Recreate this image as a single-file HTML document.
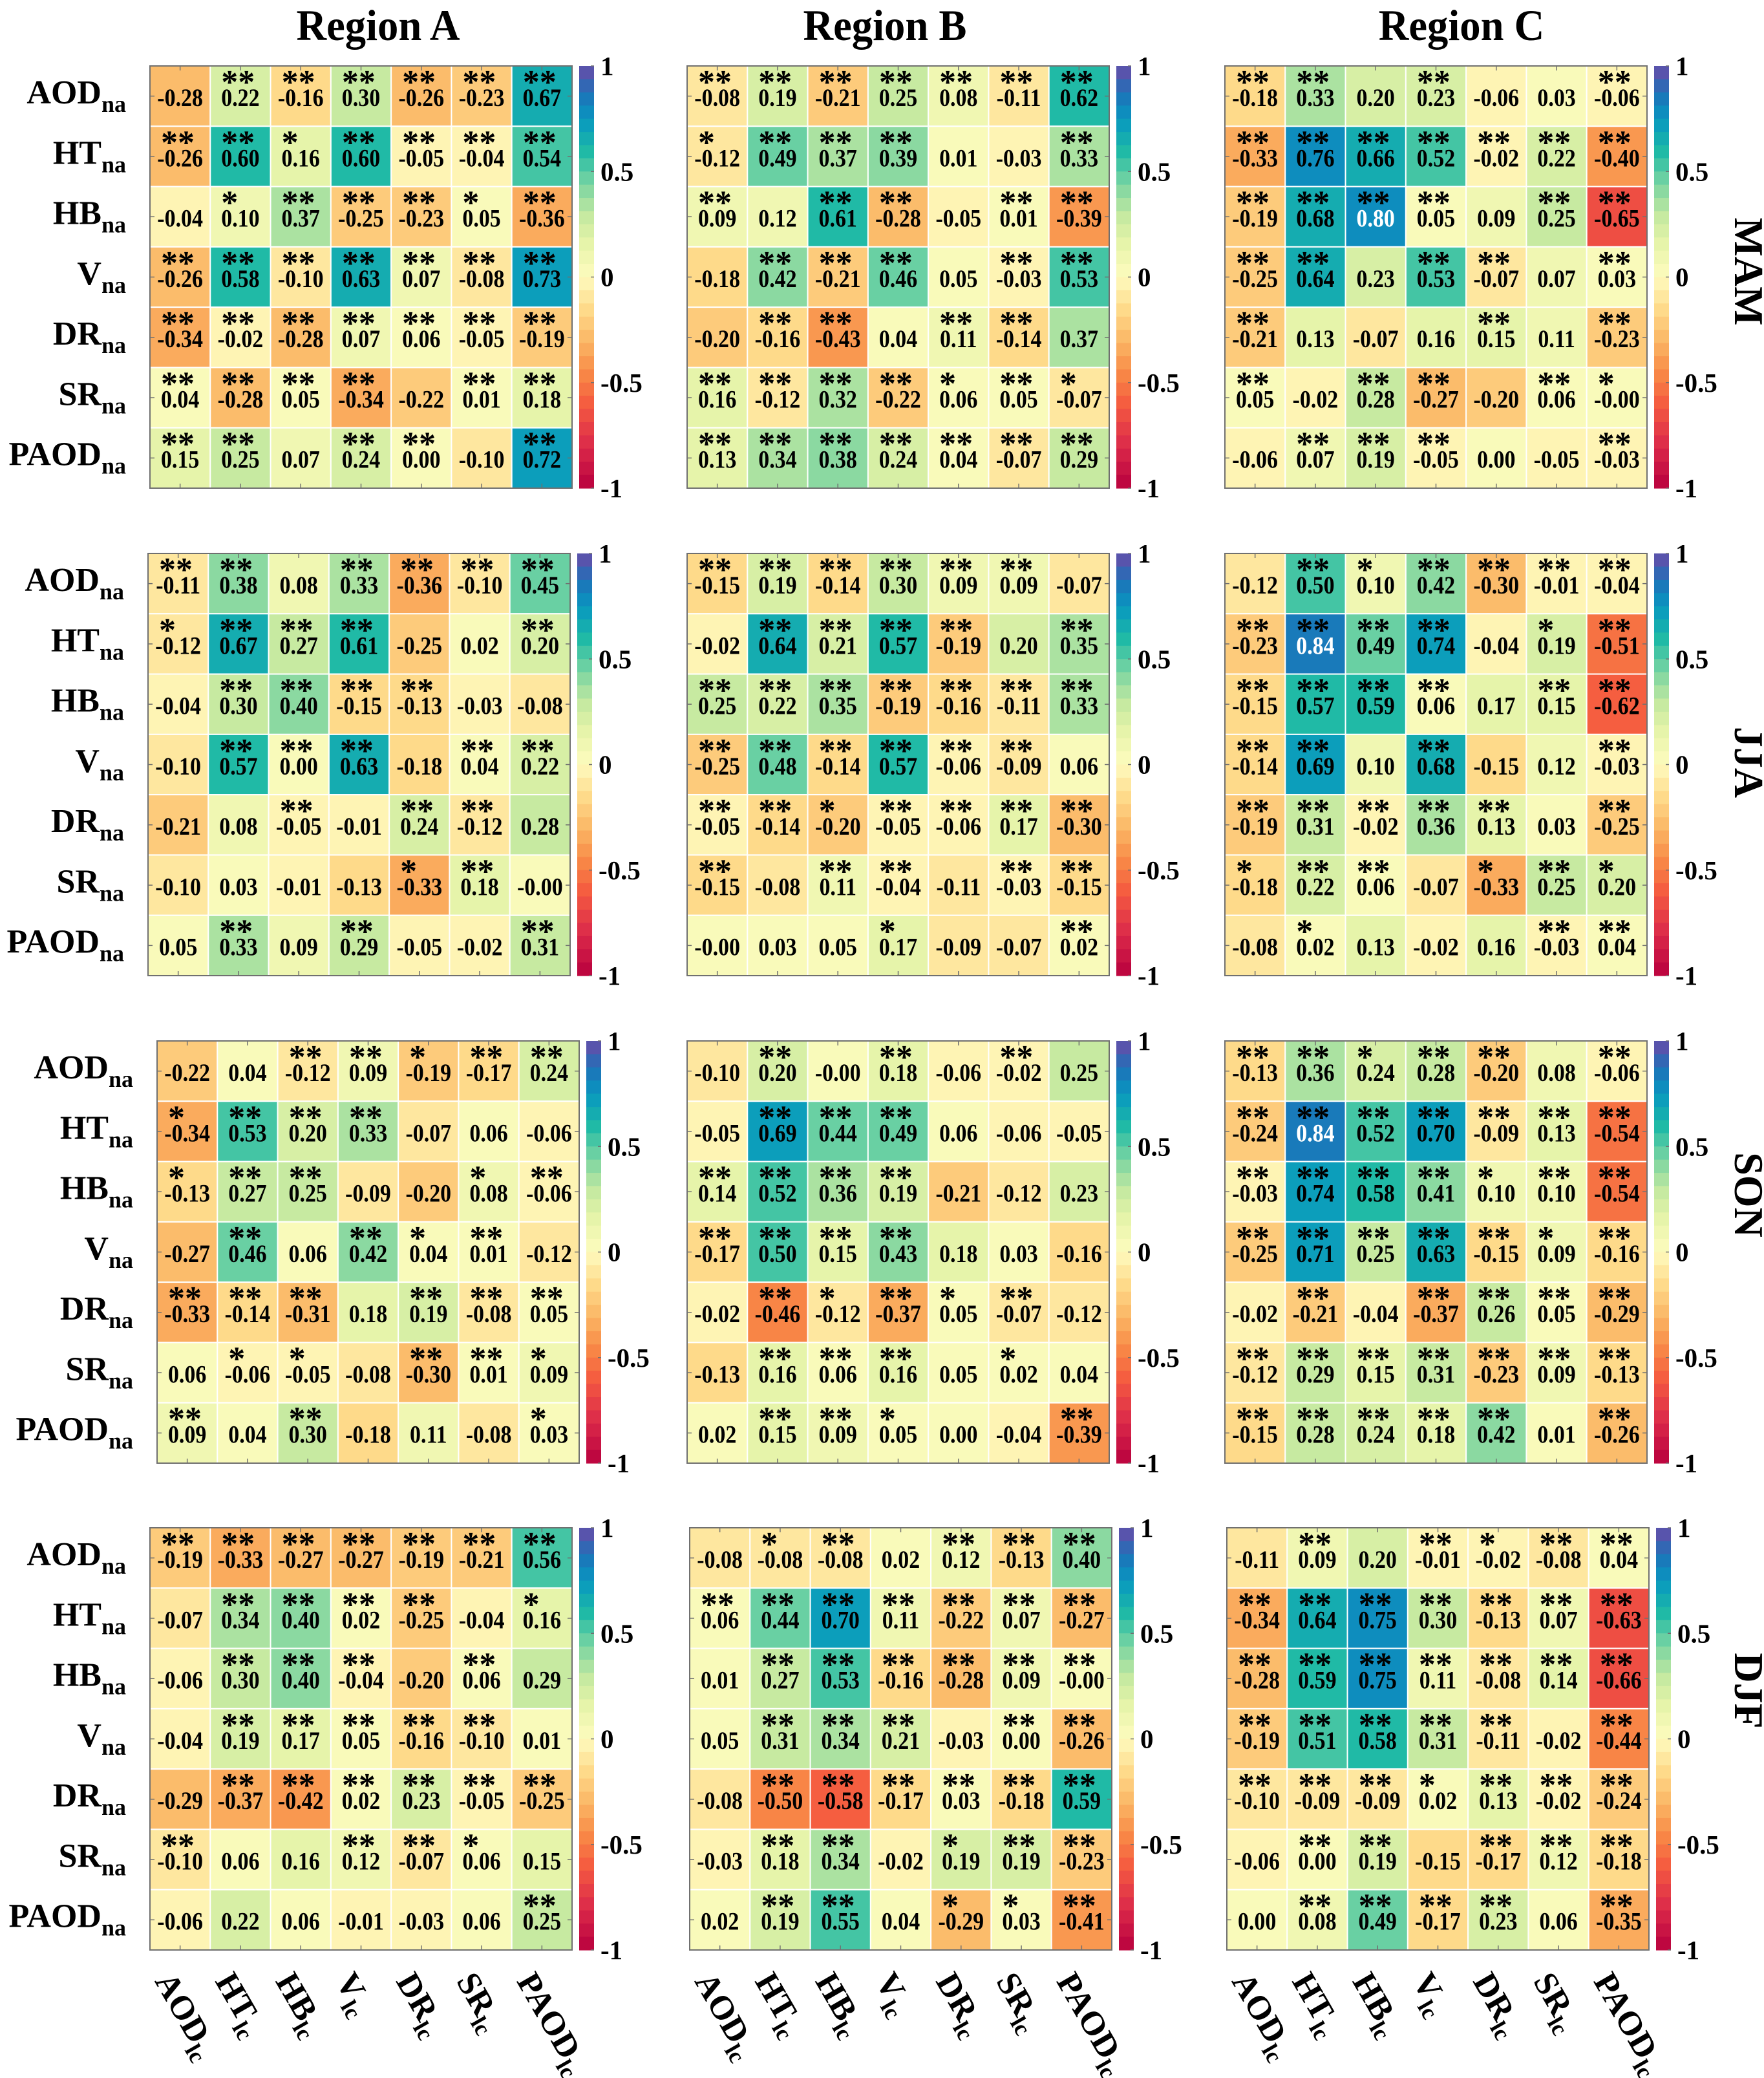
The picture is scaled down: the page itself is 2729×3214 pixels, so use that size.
<!DOCTYPE html>
<html><head><meta charset="utf-8"><title>Correlation heatmaps</title>
<style>
html,body{margin:0;padding:0;background:#fff;}
svg{display:block;font-family:"Liberation Serif",serif;}
</style></head>
<body>
<svg id="fig" xmlns="http://www.w3.org/2000/svg" width="2729" height="3214" viewBox="0 0 2729 3214"></svg>
<script>
const rowNames = ["AOD","HT","HB","V","DR","SR","PAOD"];
const colNames = ["AOD","HT","HB","V","DR","SR","PAOD"];
const seasons = ["MAM","JJA","SON","DJF"];
const regions = ["A","B","C"];
const cbTicks = [1,0.5,0,-0.5,-1];
const cbTickLabels = ["1","0.5","0","-0.5","-1"];

const valsMAM_A = [[-0.28,0.22,-0.16,0.30,-0.26,-0.23,0.67],[-0.26,0.60,0.16,0.60,-0.05,-0.04,0.54],[-0.04,0.10,0.37,-0.25,-0.23,0.05,-0.36],[-0.26,0.58,-0.10,0.63,0.07,-0.08,0.73],[-0.34,-0.02,-0.28,0.07,0.06,-0.05,-0.19],[0.04,-0.28,0.05,-0.34,-0.22,0.01,0.18],[0.15,0.25,0.07,0.24,0.00,-0.10,0.72]];
const starsMAM_A = ["0222222","2212222","0122212","2222222","2222222","2222022","2202202"];
const valsMAM_B = [[-0.08,0.19,-0.21,0.25,0.08,-0.11,0.62],[-0.12,0.49,0.37,0.39,0.01,-0.03,0.33],[0.09,0.12,0.61,-0.28,-0.05,0.01,-0.39],[-0.18,0.42,-0.21,0.46,0.05,-0.03,0.53],[-0.20,-0.16,-0.43,0.04,0.11,-0.14,0.37],[0.16,-0.12,0.32,-0.22,0.06,0.05,-0.07],[0.13,0.34,0.38,0.24,0.04,-0.07,0.29]];
const starsMAM_B = ["2222222","1222002","2022022","0222022","0220220","2222121","2222222"];
const valsMAM_C = [[-0.18,0.33,0.20,0.23,-0.06,0.03,-0.06],[-0.33,0.76,0.66,0.52,-0.02,0.22,-0.40],[-0.19,0.68,0.80,0.05,0.09,0.25,-0.65],[-0.25,0.64,0.23,0.53,-0.07,0.07,0.03],[-0.21,0.13,-0.07,0.16,0.15,0.11,-0.23],[0.05,-0.02,0.28,-0.27,-0.20,0.06,-0.00],[-0.06,0.07,0.19,-0.05,0.00,-0.05,-0.03]];
const starsMAM_C = ["2202002","2222222","2222022","2202202","2000202","2022021","0222002"];
const valsJJA_A = [[-0.11,0.38,0.08,0.33,-0.36,-0.10,0.45],[-0.12,0.67,0.27,0.61,-0.25,0.02,0.20],[-0.04,0.30,0.40,-0.15,-0.13,-0.03,-0.08],[-0.10,0.57,0.00,0.63,-0.18,0.04,0.22],[-0.21,0.08,-0.05,-0.01,0.24,-0.12,0.28],[-0.10,0.03,-0.01,-0.13,-0.33,0.18,-0.00],[0.05,0.33,0.09,0.29,-0.05,-0.02,0.31]];
const starsJJA_A = ["2202222","1222002","0222200","0222022","0020220","0000120","0202002"];
const valsJJA_B = [[-0.15,0.19,-0.14,0.30,0.09,0.09,-0.07],[-0.02,0.64,0.21,0.57,-0.19,0.20,0.35],[0.25,0.22,0.35,-0.19,-0.16,-0.11,0.33],[-0.25,0.48,-0.14,0.57,-0.06,-0.09,0.06],[-0.05,-0.14,-0.20,-0.05,-0.06,0.17,-0.30],[-0.15,-0.08,0.11,-0.04,-0.11,-0.03,-0.15],[-0.00,0.03,0.05,0.17,-0.09,-0.07,0.02]];
const starsJJA_B = ["2222220","0222202","2222222","2222220","2212222","2022022","0001002"];
const valsJJA_C = [[-0.12,0.50,0.10,0.42,-0.30,-0.01,-0.04],[-0.23,0.84,0.49,0.74,-0.04,0.19,-0.51],[-0.15,0.57,0.59,0.06,0.17,0.15,-0.62],[-0.14,0.69,0.10,0.68,-0.15,0.12,-0.03],[-0.19,0.31,-0.02,0.36,0.13,0.03,-0.25],[-0.18,0.22,0.06,-0.07,-0.33,0.25,0.20],[-0.08,0.02,0.13,-0.02,0.16,-0.03,0.04]];
const starsJJA_C = ["0212222","2222012","2222022","2202002","2222202","1220121","0100022"];
const valsSON_A = [[-0.22,0.04,-0.12,0.09,-0.19,-0.17,0.24],[-0.34,0.53,0.20,0.33,-0.07,0.06,-0.06],[-0.13,0.27,0.25,-0.09,-0.20,0.08,-0.06],[-0.27,0.46,0.06,0.42,0.04,0.01,-0.12],[-0.33,-0.14,-0.31,0.18,0.19,-0.08,0.05],[0.06,-0.06,-0.05,-0.08,-0.30,0.01,0.09],[0.09,0.04,0.30,-0.18,0.11,-0.08,0.03]];
const starsSON_A = ["0022122","1222000","1220012","0202120","2220222","0110221","2020001"];
const valsSON_B = [[-0.10,0.20,-0.00,0.18,-0.06,-0.02,0.25],[-0.05,0.69,0.44,0.49,0.06,-0.06,-0.05],[0.14,0.52,0.36,0.19,-0.21,-0.12,0.23],[-0.17,0.50,0.15,0.43,0.18,0.03,-0.16],[-0.02,-0.46,-0.12,-0.37,0.05,-0.07,-0.12],[-0.13,0.16,0.06,0.16,0.05,0.02,0.04],[0.02,0.15,0.09,0.05,0.00,-0.04,-0.39]];
const starsSON_B = ["0202020","0222000","2222000","2222000","0212120","0222010","0221002"];
const valsSON_C = [[-0.13,0.36,0.24,0.28,-0.20,0.08,-0.06],[-0.24,0.84,0.52,0.70,-0.09,0.13,-0.54],[-0.03,0.74,0.58,0.41,0.10,0.10,-0.54],[-0.25,0.71,0.25,0.63,-0.15,0.09,-0.16],[-0.02,-0.21,-0.04,-0.37,0.26,0.05,-0.29],[-0.12,0.29,0.15,0.31,-0.23,0.09,-0.13],[-0.15,0.28,0.24,0.18,0.42,0.01,-0.26]];
const starsSON_C = ["2212202","2222222","2222122","2222212","0202222","2222222","2222202"];
const valsDJF_A = [[-0.19,-0.33,-0.27,-0.27,-0.19,-0.21,0.56],[-0.07,0.34,0.40,0.02,-0.25,-0.04,0.16],[-0.06,0.30,0.40,-0.04,-0.20,0.06,0.29],[-0.04,0.19,0.17,0.05,-0.16,-0.10,0.01],[-0.29,-0.37,-0.42,0.02,0.23,-0.05,-0.25],[-0.10,0.06,0.16,0.12,-0.07,0.06,0.15],[-0.06,0.22,0.06,-0.01,-0.03,0.06,0.25]];
const starsDJF_A = ["2222222","0222201","0222020","0222220","0222222","2002210","0000002"];
const valsDJF_B = [[-0.08,-0.08,-0.08,0.02,0.12,-0.13,0.40],[0.06,0.44,0.70,0.11,-0.22,0.07,-0.27],[0.01,0.27,0.53,-0.16,-0.28,0.09,-0.00],[0.05,0.31,0.34,0.21,-0.03,0.00,-0.26],[-0.08,-0.50,-0.58,-0.17,0.03,-0.18,0.59],[-0.03,0.18,0.34,-0.02,0.19,0.19,-0.23],[0.02,0.19,0.55,0.04,-0.29,0.03,-0.41]];
const starsDJF_B = ["0120222","2222222","0222222","0222022","0222222","0220122","0220112"];
const valsDJF_C = [[-0.11,0.09,0.20,-0.01,-0.02,-0.08,0.04],[-0.34,0.64,0.75,0.30,-0.13,0.07,-0.63],[-0.28,0.59,0.75,0.11,-0.08,0.14,-0.66],[-0.19,0.51,0.58,0.31,-0.11,-0.02,-0.44],[-0.10,-0.09,-0.09,0.02,0.13,-0.02,-0.24],[-0.06,0.00,0.19,-0.15,-0.17,0.12,-0.18],[0.00,0.08,0.49,-0.17,0.23,0.06,-0.35]];
const starsDJF_C = ["0202122","2222222","2222222","2222202","2221222","0220222","0222202"];

const panelVals = {MAM:[valsMAM_A,valsMAM_B,valsMAM_C],JJA:[valsJJA_A,valsJJA_B,valsJJA_C],SON:[valsSON_A,valsSON_B,valsSON_C],DJF:[valsDJF_A,valsDJF_B,valsDJF_C]};
const panelStars = {MAM:[starsMAM_A,starsMAM_B,starsMAM_C],JJA:[starsJJA_A,starsJJA_B,starsJJA_C],SON:[starsSON_A,starsSON_B,starsSON_C],DJF:[starsDJF_A,starsDJF_B,starsDJF_C]};

const PW = 653, PH = 653;
const rowTop = [102, 856, 1610, 2363];
const colLeft = [[232,1063,1895],[229,1063,1895],[243,1063,1895],[232,1067,1898]];
const titleX = [585, 1369, 2261];
const seasonLabelY = [420, 1179, 1848, 2615];

const NS = "http://www.w3.org/2000/svg";
const svg = document.getElementById('fig');
function mk(tag, attrs, parent){ const e=document.createElementNS(NS,tag); for(const k in attrs) e.setAttribute(k,attrs[k]); (parent||svg).appendChild(e); return e; }

const stops = [[-1,"#b8003e"],[-0.8,"#dc2a4a"],[-0.6,"#f55c40"],[-0.45,"#f88b47"],[-0.3,"#fbb866"],[-0.15,"#fedb8c"],[0,"#fefbbe"],[0.15,"#e8f4aa"],[0.3,"#c2e8a0"],[0.45,"#74d3a2"],[0.6,"#1cb9a6"],[0.75,"#0897c0"],[0.87,"#1e72b8"],[1,"#6a4aa8"]];
function hex(h){return [parseInt(h.substr(1,2),16),parseInt(h.substr(3,2),16),parseInt(h.substr(5,2),16)];}
function cmap(v){
  const nb=32; let b=Math.floor((v+1)/2*nb); if(b>=nb)b=nb-1; if(b<0)b=0;
  const q=-1+(b+0.5)*2/nb;
  for(let i=0;i<stops.length-1;i++){ if(q<=stops[i+1][0]){ const t=(q-stops[i][0])/(stops[i+1][0]-stops[i][0]); const a=hex(stops[i][1]), c=hex(stops[i+1][1]); return "rgb("+a.map((x,j)=>Math.round(x+(c[j]-x)*t)).join(",")+")"; } }
  return stops[stops.length-1][1];
}
function fmt(v){ const s=Math.abs(v).toFixed(2); return (v<0||Object.is(v,-0))?"-"+s:s; }

regions.forEach((r,ci)=>{
  const t=mk('text',{x:0,y:0,'text-anchor':'middle','font-size':68,'font-weight':'bold',transform:'translate('+titleX[ci]+',62) scale(0.95,1)'});
  
  
  t.setAttribute('xml:space','preserve');
  t.textContent='Region  '+r;
});

seasons.forEach((s,si)=>{
  const y0=rowTop[si];
  const sl=mk('text',{x:0,y:0,'text-anchor':'middle','font-size':64,'font-weight':'bold',transform:'translate(2684,'+seasonLabelY[si]+') rotate(90)'});
  
  
  sl.textContent=s;
  regions.forEach((r,ri)=>{
    const x0=colLeft[si][ri];
    const cw=PW/7, ch=PH/7;
    const g=mk('g',{});
    
    
    const vals=panelVals[s][ri], st=panelStars[s][ri];
    for(let i=0;i<7;i++){ for(let j=0;j<7;j++){
      const v=vals[i][j];
      const cell=mk('rect',{x:x0+j*cw,y:y0+i*ch,width:cw,height:ch,fill:cmap(v),stroke:'#ffffff','stroke-width':2},g);
      
      
      const tv=mk('text',{x:0,y:0,'text-anchor':'middle','font-size':39,'font-weight':'bold',fill:(v>=0.78?'#ffffff':'#000000'),transform:'translate('+(x0+j*cw+cw/2)+','+(y0+i*ch+62)+') scale(0.87,1)'},g);
      
      
      tv.textContent=fmt(v);
      const n=+st[i][j];
      if(n>0){
        const ts=mk('text',{x:x0+j*cw+17,y:y0+i*ch+42,'font-size':52,'font-weight':'bold'},g);
        
        
        ts.textContent=n===2?'**':'*';
      }
    }}
    mk('rect',{x:x0,y:y0,width:PW,height:PH,fill:'none',stroke:'#707070','stroke-width':2},g);
    for(let k=0;k<7;k++){
      const cx=x0+(k+0.5)*cw, cy=y0+(k+0.5)*ch;
      mk('line',{x1:cx,y1:y0+PH,x2:cx,y2:y0+PH-7,stroke:'#707070','stroke-width':1.5},g);
      mk('line',{x1:cx,y1:y0,x2:cx,y2:y0+7,stroke:'#707070','stroke-width':1.5},g);
      mk('line',{x1:x0,y1:cy,x2:x0+7,y2:cy,stroke:'#707070','stroke-width':1.5},g);
      mk('line',{x1:x0+PW,y1:cy,x2:x0+PW-7,y2:cy,stroke:'#707070','stroke-width':1.5},g);
    }
    const cb=mk('g',{});
    
    
    const cbx=x0+PW+11, cbw=23, nb=32;
    for(let b=0;b<nb;b++){
      const v=1-(b+0.5)*2/nb;
      mk('rect',{x:cbx,y:y0+b*PH/nb,width:cbw,height:PH/nb+0.6,fill:cmap(v)},cb);
    }
    cbTicks.forEach((tk,ti)=>{
      const ty=y0+(1-tk)/2*PH;
      mk('line',{x1:cbx+cbw,y1:ty,x2:cbx+cbw-5,y2:ty,stroke:'#707070','stroke-width':1.5},cb);
      const tl=mk('text',{x:cbx+cbw+10,y:ty+14,'font-size':41,'font-weight':'bold'},cb);
      
      
      tl.textContent=cbTickLabels[ti];
    });
    if(ri===0){
      rowNames.forEach((rn,i)=>{
        const t=mk('text',{x:x0-37,y:y0+i*ch+58,'text-anchor':'end','font-size':52,'font-weight':'bold'});
        
        
        const a=mk('tspan',{},t); a.textContent=rn;
        const b=mk('tspan',{'font-size':36,dy:13},t); b.textContent='na';
      });
    }
    if(si===3){
      colNames.forEach((cn,j)=>{
        const lx=x0+(j+0.5)*cw-40, ly=y0+PH+48;
        const t=mk('text',{x:0,y:0,'font-size':52,'font-weight':'bold',transform:'translate('+lx+','+ly+') rotate(60)'});
        
        
        const a=mk('tspan',{},t); a.textContent=cn;
        const b=mk('tspan',{'font-size':36,dy:13},t); b.textContent='lc';
      });
    }
  });
});
</script>
</body></html>
